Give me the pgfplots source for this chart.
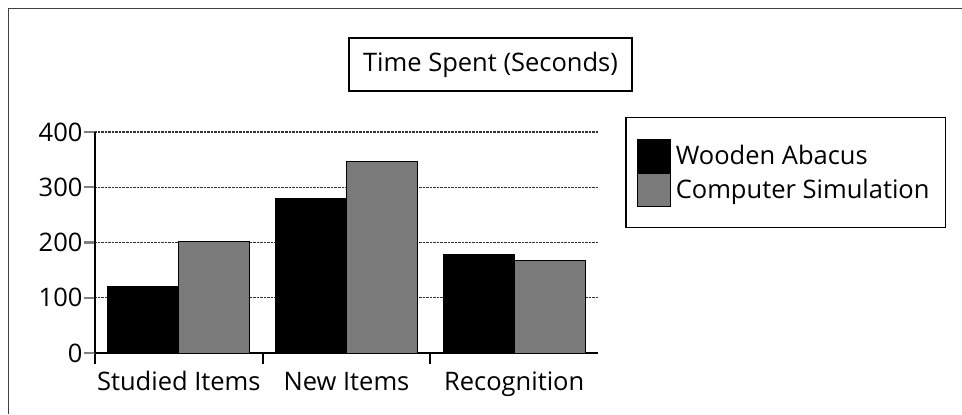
\documentclass[border=0pt]{standalone}
\usepackage{pgfplots}
\pgfplotsset{compat=1.18}
\usepackage{fontspec}
\setmainfont{Open Sans}
\definecolor{simgray}{gray}{0.48}
\begin{document}
\begin{tikzpicture}[x=1bp,y=1bp,font=\fontsize{25.5bp}{30bp}\selectfont]
\useasboundingbox (0,0) rectangle (962,414);
\draw[line width=1.5bp, black!75] (8.5,0) -- (8.5,405.5) -- (962,405.5);
\node[draw, line width=1.5bp, minimum width=283bp, minimum height=53bp, inner sep=0pt] at (490.5,349.5) {Time Spent (Seconds)};
\begin{axis}[
  at={(95bp,61bp)}, anchor=south west,
  scale only axis, width=503bp, height=221bp,
  xmin=-0.5, xmax=2.5, ymin=0, ymax=400,
  axis x line*=bottom, axis y line*=left,
  axis line style={-, line width=2.6bp},
  ybar=0pt, bar width=71bp,
  xtick={-0.5,0.5,1.5}, xticklabels={},
  x tick style={line width=2.2bp, black},
  extra x ticks={0,1,2}, extra x tick labels={Studied Items, New Items, Recognition},
  extra x tick style={major tick length=0pt},
  xticklabel style={anchor=base, yshift=-37bp},
  ytick={0,100,200,300,400},
  y tick style={line width=2.2bp},
  tick align=outside, major tick length=11bp,
  yticklabel style={xshift=2bp},
  ymajorgrids, grid style={densely dotted, line width=1.4bp, black!80},
  tick label style={font=\fontsize{25.5bp}{30bp}\selectfont},
  /pgf/number format/assume math mode=true,
  legend style={at={(1.0537,1.0679)}, anchor=north west, draw=black, line width=1.5bp,
    font=\fontsize{25.5bp}{30bp}\selectfont, inner xsep=11bp, inner ysep=21bp, row sep=0bp,
    nodes={inner xsep=5bp}},
  legend cell align=left,
  legend image code/.code={\fill[#1] (0bp,-16.5bp) rectangle (33bp,16.5bp);},
]
\addplot[fill=black, draw=black, line width=1bp] coordinates {(0,121) (1,279) (2,179)};
\addplot[fill=simgray, draw=black, line width=1bp] coordinates {(0,201) (1,346) (2,168)};
\legend{Wooden Abacus, Computer Simulation}
\end{axis}
\end{tikzpicture}
\end{document}
